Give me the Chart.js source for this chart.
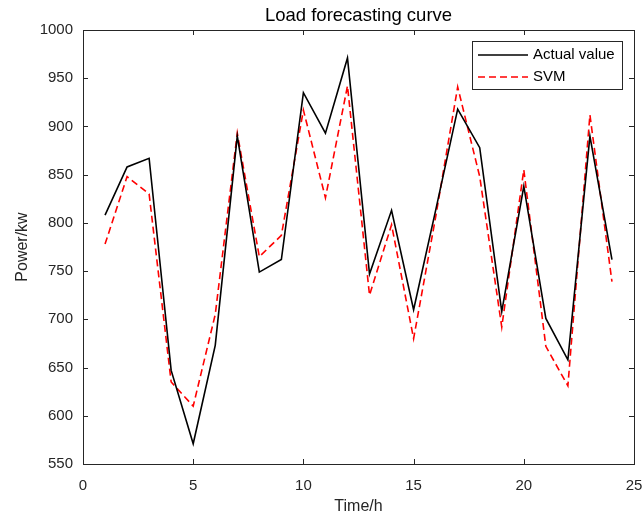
<!DOCTYPE html>
<html>
<head>
<meta charset="utf-8">
<script src="https://cdn.jsdelivr.net/npm/chart.js@4.4.0/dist/chart.umd.min.js"></script>
<style>
  html, body { margin: 0; padding: 0; background: #fff; }
  #wrap { width: 644px; height: 517px; }
</style>
</head>
<body>
<div id="wrap"><canvas id="loadChart" width="644" height="517"></canvas></div>
<script>
const hours = [1, 2, 3, 4, 5, 6, 7, 8, 9, 10, 11, 12, 13, 14, 15, 16, 17, 18, 19, 20, 21, 22, 23, 24];
const actualValues = [808, 858, 867, 647, 571, 673, 890, 749, 762, 935, 893, 971,
                      747, 813, 710, 813, 918, 878, 708, 838, 701, 658, 890, 762];
const svmValues = [778, 848, 830, 635, 610, 705, 893, 765, 787, 917, 826, 942,
                   725, 798, 680, 806, 941, 848, 692, 855, 672, 631, 912, 739];
const xTicks = [0, 5, 10, 15, 20, 25];
const yTicks = [550, 600, 650, 700, 750, 800, 850, 900, 950, 1000];
const chartTitle = "Load forecasting curve";

const axisColor = "#262626";
const fontFamily = "'Liberation Sans', Arial, Helvetica, sans-serif";

function toPoints(values) {
  return hours.map((h, i) => ({ x: h, y: values[i] }));
}

// matlab style box, inward ticks, title over the axes and the boxed legend
const matlabFrame = {
  id: "matlabFrame",
  afterDraw(chart) {
    const { ctx, chartArea: a, scales } = chart;
    const tick = 5;
    ctx.save();
    ctx.strokeStyle = axisColor;
    ctx.lineWidth = 1;
    ctx.strokeRect(a.left + 0.5, a.top + 0.5, a.right - a.left, a.bottom - a.top);
    ctx.beginPath();
    scales.x.ticks.forEach(t => {
      const x = Math.round(scales.x.getPixelForValue(t.value)) + 0.5;
      ctx.moveTo(x, a.bottom); ctx.lineTo(x, a.bottom - tick);
      ctx.moveTo(x, a.top); ctx.lineTo(x, a.top + tick);
    });
    scales.y.ticks.forEach(t => {
      const y = Math.round(scales.y.getPixelForValue(t.value)) + 0.5;
      ctx.moveTo(a.left, y); ctx.lineTo(a.left + tick, y);
      ctx.moveTo(a.right, y); ctx.lineTo(a.right - tick, y);
    });
    ctx.stroke();

    // title, centred on the axes
    ctx.fillStyle = "#000";
    ctx.font = "18.5px " + fontFamily;
    ctx.textAlign = "center";
    ctx.textBaseline = "middle";
    ctx.fillText(chartTitle, (a.left + a.right) / 2, 16);

    // legend
    const box = { left: 472.5, top: 41.5, width: 150, height: 48 };
    ctx.fillStyle = "#fff";
    ctx.fillRect(box.left, box.top, box.width, box.height);
    ctx.strokeStyle = axisColor;
    ctx.strokeRect(box.left, box.top, box.width, box.height);
    ctx.font = "15px " + fontFamily;
    ctx.textAlign = "left";
    chart.data.datasets.forEach((ds, i) => {
      const y = 55 + i * 22;
      ctx.strokeStyle = ds.borderColor;
      ctx.lineWidth = ds.borderWidth;
      ctx.setLineDash(ds.borderDash || []);
      ctx.beginPath();
      ctx.moveTo(478, y);
      ctx.lineTo(528, y);
      ctx.stroke();
      ctx.setLineDash([]);
      ctx.fillStyle = "#000";
      ctx.fillText(ds.label, 533, y);
    });
    ctx.restore();
  }
};

const ctx = document.getElementById("loadChart").getContext("2d");

new Chart(ctx, {
  type: "line",
  data: {
    datasets: [{
      label: "Actual value",
      data: toPoints(actualValues),
      borderColor: "#000000",
      borderWidth: 1.6,
      pointRadius: 0,
      tension: 0,
      fill: false
    }, {
      label: "SVM",
      data: toPoints(svmValues),
      borderColor: "#ff0000",
      borderWidth: 1.6,
      borderDash: [7, 4],
      pointRadius: 0,
      tension: 0,
      fill: false
    }]
  },
  options: {
    responsive: false,
    animation: false,
    layout: { padding: { left: 0, right: 10, top: 30, bottom: 0 } },
    scales: {
      x: {
        type: "linear",
        min: 0,
        max: 25,
        afterBuildTicks: scale => { scale.ticks = xTicks.map(v => ({ value: v })); },
        afterFit: scale => {
          scale.height = 53;
          scale.paddingLeft = 0;
          scale.paddingRight = 0;
        },
        grid: { display: false, drawTicks: false },
        border: { display: false },
        ticks: { color: axisColor, padding: 13, font: { size: 15, family: fontFamily } },
        title: {
          display: true,
          text: "Time/h",
          color: axisColor,
          padding: { top: 0, bottom: 1 },
          font: { size: 16, family: fontFamily }
        }
      },
      y: {
        min: 550,
        max: 1000,
        afterBuildTicks: scale => { scale.ticks = yTicks.map(v => ({ value: v })); },
        afterFit: scale => { scale.width = 83; },
        grid: { display: false, drawTicks: false },
        border: { display: false },
        ticks: {
          color: axisColor,
          padding: 10,
          font: { size: 15, family: fontFamily },
          callback: value => String(value)
        },
        title: {
          display: true,
          text: "Power/kw",
          color: axisColor,
          padding: { top: 13, bottom: 0 },
          font: { size: 16, family: fontFamily }
        }
      }
    },
    plugins: {
      legend: { display: false },
      tooltip: { enabled: false },
      title: { display: false }
    }
  },
  plugins: [matlabFrame]
});
</script>
</body>
</html>
